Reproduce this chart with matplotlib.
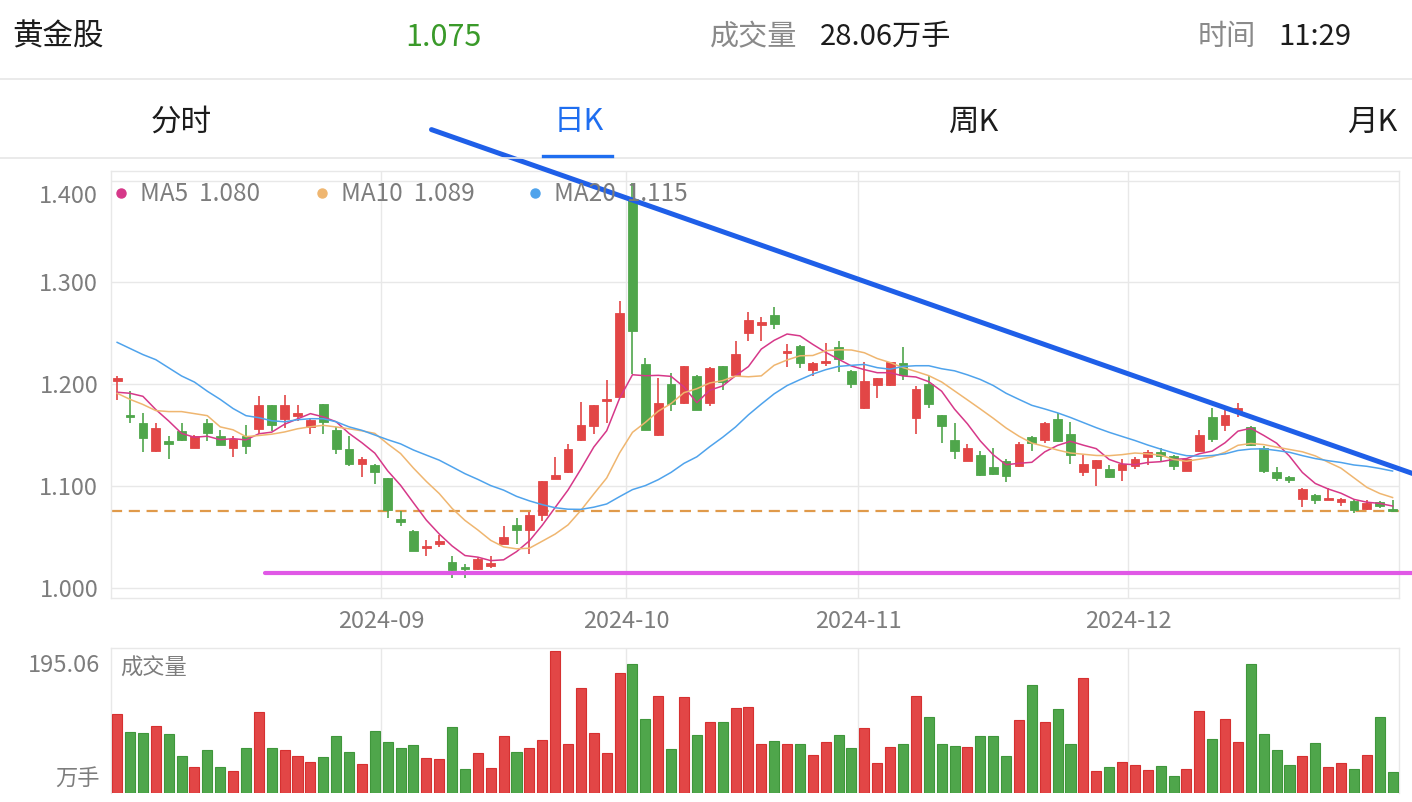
import matplotlib
matplotlib.use("Agg")
import matplotlib.pyplot as plt
from matplotlib.lines import Line2D
from matplotlib.transforms import ScaledTranslation
import numpy as np
import pandas as pd

plt.rcParams["font.family"] = ["Noto Sans CJK SC", "DejaVu Sans"]

# ---- data ----
opens = [
    1.203, 1.169, 1.162, 1.134, 1.144, 1.154, 1.137, 1.162, 1.149, 1.137,
    1.149, 1.156, 1.179, 1.166, 1.169, 1.158, 1.180, 1.155, 1.136, 1.122,
    1.121, 1.108, 1.067, 1.056, 1.039, 1.043, 1.025, 1.020, 1.018, 1.021,
    1.043, 1.062, 1.057, 1.071, 1.107, 1.114, 1.145, 1.159, 1.183, 1.187,
    1.382, 1.220, 1.150, 1.200, 1.181, 1.208, 1.181, 1.218, 1.209, 1.250,
    1.258, 1.268, 1.231, 1.237, 1.214, 1.221, 1.236, 1.213, 1.177, 1.199,
    1.199, 1.221, 1.167, 1.200, 1.170, 1.145, 1.124, 1.130, 1.119, 1.124,
    1.120, 1.148, 1.145, 1.166, 1.151, 1.114, 1.118, 1.117, 1.116, 1.120,
    1.128, 1.133, 1.129, 1.115, 1.134, 1.168, 1.160, 1.174, 1.158, 1.137,
    1.114, 1.109, 1.087, 1.091, 1.086, 1.084, 1.085, 1.077, 1.084, 1.077,
]
closes = [
    1.206, 1.168, 1.147, 1.157, 1.141, 1.145, 1.149, 1.152, 1.140, 1.146,
    1.139, 1.179, 1.160, 1.179, 1.172, 1.165, 1.163, 1.136, 1.122, 1.126,
    1.114, 1.076, 1.065, 1.036, 1.041, 1.046, 1.017, 1.018, 1.028, 1.024,
    1.050, 1.057, 1.071, 1.105, 1.111, 1.136, 1.160, 1.179, 1.185, 1.270,
    1.252, 1.155, 1.181, 1.180, 1.218, 1.175, 1.216, 1.202, 1.230, 1.263,
    1.261, 1.259, 1.233, 1.221, 1.221, 1.222, 1.225, 1.200, 1.203, 1.206,
    1.222, 1.209, 1.195, 1.180, 1.159, 1.134, 1.137, 1.111, 1.112, 1.110,
    1.141, 1.142, 1.162, 1.144, 1.130, 1.122, 1.125, 1.109, 1.122, 1.126,
    1.133, 1.129, 1.120, 1.126, 1.150, 1.146, 1.170, 1.177, 1.140, 1.115,
    1.108, 1.106, 1.097, 1.086, 1.088, 1.087, 1.076, 1.083, 1.080, 1.075,
]
highs = [
    1.208, 1.193, 1.172, 1.162, 1.149, 1.162, 1.150, 1.166, 1.155, 1.149,
    1.160, 1.188, 1.179, 1.189, 1.179, 1.167, 1.180, 1.158, 1.149, 1.128,
    1.122, 1.108, 1.075, 1.057, 1.047, 1.052, 1.031, 1.023, 1.029, 1.031,
    1.061, 1.068, 1.074, 1.105, 1.128, 1.141, 1.182, 1.179, 1.204, 1.282,
    1.398, 1.226, 1.206, 1.211, 1.218, 1.209, 1.217, 1.218, 1.242, 1.271,
    1.266, 1.276, 1.239, 1.238, 1.222, 1.240, 1.242, 1.214, 1.222, 1.206,
    1.222, 1.236, 1.198, 1.208, 1.170, 1.162, 1.141, 1.134, 1.137, 1.126,
    1.143, 1.149, 1.163, 1.172, 1.163, 1.130, 1.125, 1.121, 1.126, 1.128,
    1.135, 1.137, 1.130, 1.127, 1.155, 1.177, 1.176, 1.181, 1.159, 1.139,
    1.119, 1.110, 1.098, 1.092, 1.098, 1.088, 1.086, 1.086, 1.085, 1.086,
]
lows = [
    1.184, 1.162, 1.133, 1.133, 1.126, 1.144, 1.137, 1.144, 1.140, 1.128,
    1.131, 1.151, 1.154, 1.157, 1.164, 1.151, 1.151, 1.131, 1.120, 1.109,
    1.102, 1.068, 1.061, 1.036, 1.031, 1.040, 1.010, 1.010, 1.017, 1.019,
    1.043, 1.043, 1.033, 1.066, 1.107, 1.113, 1.144, 1.151, 1.162, 1.187,
    1.210, 1.155, 1.149, 1.174, 1.180, 1.175, 1.178, 1.194, 1.208, 1.242,
    1.242, 1.254, 1.217, 1.216, 1.208, 1.218, 1.212, 1.196, 1.176, 1.186,
    1.198, 1.204, 1.151, 1.177, 1.142, 1.126, 1.124, 1.110, 1.111, 1.104,
    1.119, 1.134, 1.142, 1.143, 1.122, 1.110, 1.100, 1.108, 1.105, 1.117,
    1.121, 1.124, 1.116, 1.115, 1.133, 1.143, 1.154, 1.168, 1.139, 1.113,
    1.105, 1.103, 1.079, 1.082, 1.086, 1.080, 1.073, 1.076, 1.078, 1.074,
]
volumes = [
    107.6, 82.9, 82.4, 91.6, 80.1, 50.4, 35.7, 58.6, 35.7, 30.2,
    61.8, 110.4, 61.8, 58.6, 50.8, 42.1, 49.5, 77.8, 55.9, 39.4,
    84.7, 69.1, 61.8, 65.9, 48.1, 46.7, 90.7, 33.0, 54.5, 34.3,
    77.8, 55.9, 61.8, 71.9, 195.06, 66.9, 143.3, 82.4, 54.0, 164.8,
    176.7, 101.2, 133.2, 59.5, 131.9, 79.2, 97.5, 97.5, 116.8, 118.1,
    66.9, 71.0, 66.9, 66.9, 51.7, 69.6, 79.2, 61.8, 89.3, 41.2,
    62.3, 66.9, 133.2, 103.5, 66.9, 64.1, 62.7, 77.4, 77.4, 50.8,
    99.8, 147.9, 97.1, 114.5, 67.3, 157.5, 29.8, 35.7, 42.1, 37.5,
    30.7, 37.1, 23.4, 32.1, 111.7, 73.7, 101.7, 70.1, 176.3, 80.1,
    58.6, 38.5, 49.9, 68.7, 35.7, 41.2, 32.5, 51.7, 103.5, 28.06,
]
# moving averages before the window has enough closes (need earlier history)
ma5_head = [1.192, 1.191, 1.188, 1.175]
ma10_head = [1.191, 1.185, 1.180, 1.174, 1.173, 1.173, 1.171, 1.169, 1.158]
ma20_head = [1.241, 1.235, 1.229, 1.224, 1.216, 1.208, 1.202, 1.193, 1.185,
             1.176, 1.169, 1.167, 1.164, 1.163, 1.165, 1.166, 1.166, 1.163, 1.158]

month_labels = ["2024-09", "2024-10", "2024-11", "2024-12"]
month_start_idx = [21, 40, 58, 79]
price_ticks = [1.0, 1.1, 1.2, 1.3, 1.4]

stock_name = "黄金股"
last_price = 1.075
last_volume = 28.06
quote_time = "11:29"
tabs = ["分时", "日K", "周K", "月K"]

# hand-drawn annotations (index, price)
trend_line = [(24.4, 1.450), (101.5, 1.108)]
support_level = 1.0145
support_start = 11.5

# ---- colours ----
RED = "#e24646"
GREEN = "#4fa64b"
GRID = "#e8e8e8"
GRAY = "#7d7d7d"
BLACK = "#1c1c1c"
MA_COLORS = ["#d63889", "#efb670", "#4fa3ec"]

W, H = 1412, 802


def fx(x):
    return x / W


def fy(y):
    return 1 - y / H


fig = plt.figure(figsize=(W / 100, H / 100), dpi=100)
fig.patch.set_facecolor("white")

# ---- header ----
fig.text(fx(12), fy(37), stock_name, fontsize=22, color=BLACK, va="center")
fig.text(fx(443), fy(37), f"{last_price:.3f}", fontsize=22, color="#3a9a2a",
         va="center", ha="center")
fig.text(fx(710), fy(37), "成交量", fontsize=21, color="#8a8a8a", va="center")
fig.text(fx(820), fy(37), f"{last_volume:.2f}万手", fontsize=21, color=BLACK,
         va="center")
fig.text(fx(1198), fy(37), "时间", fontsize=21, color="#8a8a8a", va="center")
fig.text(fx(1278), fy(37), quote_time, fontsize=21, color=BLACK, va="center")

for y in (79, 158):
    fig.add_artist(Line2D([0, 1], [fy(y), fy(y)], color="#e6e6e6", lw=1.2,
                          transform=fig.transFigure))

tab_x = [181, 579, 974, 1372]
for name, x in zip(tabs, tab_x):
    col = "#1f6ef0" if name == "日K" else BLACK
    fig.text(fx(x), fy(122), name, fontsize=22, color=col, va="center",
             ha="center")
fig.add_artist(Line2D([fx(543), fx(612)], [fy(155.5), fy(155.5)],
                      color="#1f6ef0", lw=2.4, transform=fig.transFigure))

# ---- price panel ----
ax = fig.add_axes([fx(110.7), fy(597.7), 1288.3 / W, 427 / H])
vax = fig.add_axes([fx(110.7), fy(792.7), 1288.3 / W, 145 / H])

n = len(closes)
x = np.arange(n)
o = np.array(opens)
c = np.array(closes)
up = c >= o
colors = np.where(up, RED, GREEN)

close_s = pd.Series(closes)
ma_lines = []
for win, head in ((5, ma5_head), (10, ma10_head), (20, ma20_head)):
    ma = close_s.rolling(win).mean().to_numpy()
    ma[:len(head)] = head
    ma_lines.append(ma)

ax.vlines(x, lows, highs, colors=colors, linewidth=1.2, zorder=3)
body_bottom = np.minimum(o, c)
body_height = np.maximum(np.abs(c - o), 0.0015)
ax.bar(x, body_height, bottom=body_bottom, width=0.68, color=colors,
       edgecolor=colors, linewidth=0.6, zorder=4)

for ma, col in zip(ma_lines, MA_COLORS):
    ax.plot(x, ma, color=col, lw=1.1, zorder=5)

ax.axhline(last_price, color="#e09a4a", lw=1.6, dashes=(5, 3), zorder=2)

ax.set_xlim(-0.5, n - 0.5)
ax.set_ylim(0.99018, 1.40963)
month_x = [i - 0.5 for i in month_start_idx]
for a in (ax, vax):
    a.set_xticks(month_x)
    a.grid(True, color=GRID, lw=1.0)
    a.set_axisbelow(True)
    for s in a.spines.values():
        s.set_color(GRID)
        s.set_linewidth(1.0)
    a.tick_params(length=0)

ax.set_xticklabels(month_labels, fontsize=17, color=GRAY)
ax.tick_params(axis="x", pad=9)
ax.set_yticks(price_ticks)
ax.set_yticklabels([f"{v:.3f}" for v in price_ticks], fontsize=17, color=GRAY)
ax.tick_params(axis="y", pad=9)
top_label = ax.get_yticklabels()[-1]
top_label.set_va("top")
top_label.set_transform(top_label.get_transform()
                        + ScaledTranslation(0, -0.04, fig.dpi_scale_trans))

# legend
legend_x = [121, 322, 535]
for (win, ma, col, lx) in zip((5, 10, 20), ma_lines, MA_COLORS, legend_x):
    fig.add_artist(Line2D([fx(lx)], [fy(193)], marker="o", ms=6.5, color=col,
                          lw=0, transform=fig.transFigure))
    fig.text(fx(lx + 19), fy(194), f"MA{win}  {ma[-1]:.3f}", fontsize=17.5,
             color=GRAY, va="center")

# annotations drawn over the chart
(tx0, ty0), (tx1, ty1) = trend_line
ax.plot([tx0, tx1], [ty0, ty1], color="#1f5fe8", lw=3.6, clip_on=False,
        zorder=8, solid_capstyle="round")
ax.plot([support_start, n + 1.5], [support_level, support_level],
        color="#e058e6", lw=3.0, clip_on=False, zorder=8,
        solid_capstyle="round")

# ---- volume panel ----
vcol_edge = np.where(up, "#d63030", "#3f963b")
vax.bar(x, volumes, width=0.78, color=colors, edgecolor=vcol_edge,
        linewidth=0.8, zorder=3)
vax.set_xlim(-0.5, n - 0.5)
vmax = max(volumes)
vax.set_ylim(0, vmax * 145 / 142)
vax.set_yticks([])
vax.set_xticklabels([])
vax.spines["bottom"].set_visible(False)
fig.text(fx(100), fy(666), f"{vmax:.2f}", fontsize=17, color=GRAY,
         ha="right", va="center")
fig.text(fx(100), fy(778), "万手", fontsize=16, color=GRAY, ha="right",
         va="center")
fig.text(fx(120), fy(668), "成交量", fontsize=16, color=GRAY, va="center")

fig.savefig("out.png", dpi=100, facecolor="white")
